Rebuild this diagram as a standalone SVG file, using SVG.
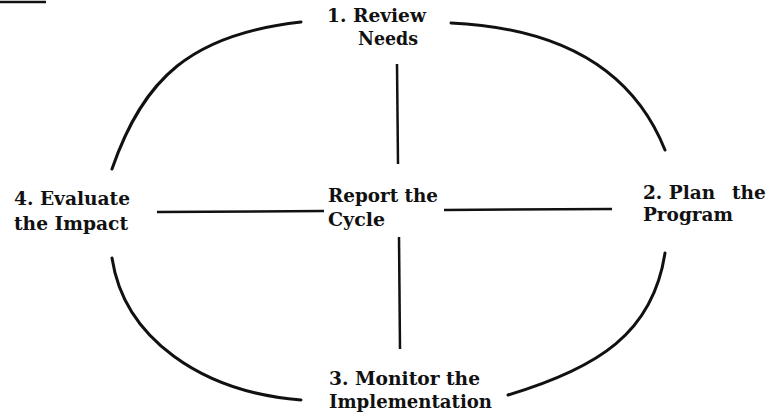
<svg xmlns="http://www.w3.org/2000/svg" width="771" height="417" viewBox="0 0 771 417">
<style>
  .lbl { font-family: "DejaVu Serif", "Liberation Serif", serif; font-weight: bold; font-size: 18.5px; fill: #111; }
  .arc { fill: none; stroke: #111; stroke-width: 3; stroke-linecap: round; }
  .ln { fill: none; stroke: #111; stroke-width: 2.5; stroke-linecap: butt; }
</style>
<rect width="771" height="417" fill="#fff"/>
<g id="connectors">
  <line class="ln" x1="0" y1="2" x2="46" y2="2"/>
  <path class="arc" d="M301,22 C191,34 143,79 112,169"/>
  <path class="arc" d="M451,23 C561,28 633,70 665,150"/>
  <path class="arc" d="M112,258 C124,338 201,392 301,400"/>
  <path class="arc" d="M665,253 C653,333 598,368 508,395"/>
  <line class="ln" x1="397" y1="64" x2="398" y2="164"/>
  <line class="ln" x1="399" y1="237" x2="400" y2="349"/>
  <line class="ln" x1="157" y1="212" x2="324" y2="211"/>
  <line class="ln" x1="444" y1="210" x2="612" y2="209"/>
</g>
<g id="node-review">
  <text class="lbl" x="327" y="22" textLength="99" lengthAdjust="spacingAndGlyphs">1. Review</text>
  <text class="lbl" x="358" y="45" textLength="60" lengthAdjust="spacingAndGlyphs">Needs</text>
</g>
<g id="node-plan">
  <text class="lbl" x="643" y="199">2. Plan <tspan x="732">the</tspan></text>
  <text class="lbl" x="643" y="221" textLength="90" lengthAdjust="spacingAndGlyphs">Program</text>
</g>
<g id="node-monitor">
  <text class="lbl" x="329" y="385" textLength="151" lengthAdjust="spacingAndGlyphs">3. Monitor the</text>
  <text class="lbl" x="329" y="408" textLength="163" lengthAdjust="spacingAndGlyphs">Implementation</text>
</g>
<g id="node-evaluate">
  <text class="lbl" x="14" y="205" textLength="116" lengthAdjust="spacingAndGlyphs">4. Evaluate</text>
  <text class="lbl" x="14" y="230" textLength="114" lengthAdjust="spacingAndGlyphs">the Impact</text>
</g>
<g id="node-report">
  <text class="lbl" x="328" y="202" textLength="110" lengthAdjust="spacingAndGlyphs">Report the</text>
  <text class="lbl" x="328" y="226" textLength="57" lengthAdjust="spacingAndGlyphs">Cycle</text>
</g>
</svg>
